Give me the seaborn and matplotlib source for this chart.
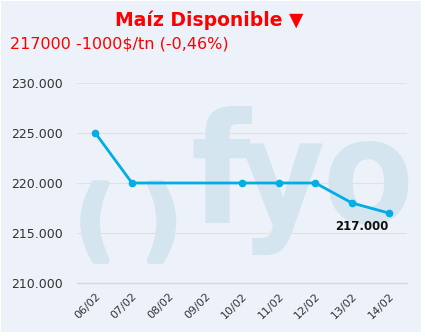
import matplotlib
matplotlib.use("Agg")
import matplotlib.pyplot as plt
import matplotlib.patches as mpatches
import matplotlib.ticker as mticker
import matplotlib.patheffects as pe
import seaborn as sns
import pandas as pd
import numpy as np

# ---- data ----
dates = ["06/02", "07/02", "08/02", "09/02", "10/02", "11/02", "12/02", "13/02", "14/02"]
prices = [225000, 220000, None, None, 220000, 220000, 220000, 218000, 217000]
title = "Maíz Disponible ▼"
subtitle = "217000 -1000$/tn (-0,46%)"
last_label = "217.000"
y_ticks = [210000, 215000, 220000, 225000, 230000]

BG = "#edf1f9"
LINE = "#00aee6"
WM = "#d4e5f0"
RED = "#ff0000"

sns.set_theme(style="white")
plt.rcParams["font.family"] = ["DejaVu Sans"]

fig = plt.figure(figsize=(4.25, 3.36), dpi=100)
fig.patch.set_facecolor("white")
fig.patches.append(mpatches.Rectangle((1/425, 1 - 332/336), 420/425, 331/336,
                                      transform=fig.transFigure, facecolor=BG,
                                      edgecolor="none", zorder=-10))

ax = fig.add_axes([77/425, 1 - 283/336, 330/425, 200/336])
ax.set_facecolor("none")
ax.set_zorder(2)

df = pd.DataFrame({"pos": np.arange(len(dates)), "date": dates, "price": prices}).dropna()

# watermark (behind the axes)
wm = dict(color=WM, fontweight="bold", zorder=1, family=["DejaVu Sans"], fontstretch="condensed")
thick = [pe.withStroke(linewidth=5, foreground=WM)]
fig.text(77/425, 1 - 267/336, "(", fontsize=62, va="bottom", path_effects=thick, **wm)
fig.text(144/425, 1 - 267/336, ")", fontsize=62, va="bottom", path_effects=thick, **wm)
fig.text(190/425, 1 - 223/336, "f", fontsize=110, va="baseline", **wm)
fig.text(238/425, 1 - 223/336, "y", fontsize=106, va="baseline", **wm)
fig.text(322/425, 1 - 223/336, "o", fontsize=106, va="baseline", **wm)

sns.lineplot(data=df, x="pos", y="price", ax=ax, color=LINE, linewidth=2.0,
             marker="o", markersize=5.5, markeredgewidth=0, zorder=5)

ax.set_xlim(-0.5, len(dates) - 0.5)
ax.set_ylim(210000, 230000)
ax.set_yticks(y_ticks)
ax.yaxis.set_major_formatter(mticker.FuncFormatter(lambda v, p: f"{int(v):,}".replace(",", ".")))
ax.set_xticks(np.arange(len(dates)))
ax.set_xticklabels(dates, rotation=45, ha="right", rotation_mode="anchor")
ax.set_xticks(np.arange(len(dates) + 1) - 0.5, minor=True)
ax.tick_params(axis="x", which="major", length=0, pad=6, labelsize=8, labelcolor="#333333")
ax.tick_params(axis="x", which="minor", length=5, color="#d8d8d8", width=1, direction="out")
ax.tick_params(axis="y", length=0, pad=10, labelsize=9, labelcolor="#333333")
ax.set_xlabel("")
ax.set_ylabel("")
ax.grid(axis="y", color="#dfe1e5", linewidth=0.8)
ax.grid(axis="x", visible=False)
for s in ["top", "right", "left"]:
    ax.spines[s].set_visible(False)
ax.spines["bottom"].set_color("#d8d8d8")
ax.spines["bottom"].set_linewidth(1)

last = df.iloc[-1]
ax.annotate(last_label, (last["pos"], last["price"]), xytext=(0, -10),
            textcoords="offset points", ha="right", va="center",
            fontsize=8.5, fontweight="bold", color="#111111", zorder=6)

fig.text(209/425, 1 - 20/336, title, ha="center", va="center", fontsize=13.5,
         fontweight="bold", color=RED, zorder=3)
fig.text(10/425, 1 - 44/336, subtitle, ha="left", va="center", fontsize=11.5, color=RED, zorder=3)

fig.savefig("out.png", dpi=100, facecolor=fig.get_facecolor())
